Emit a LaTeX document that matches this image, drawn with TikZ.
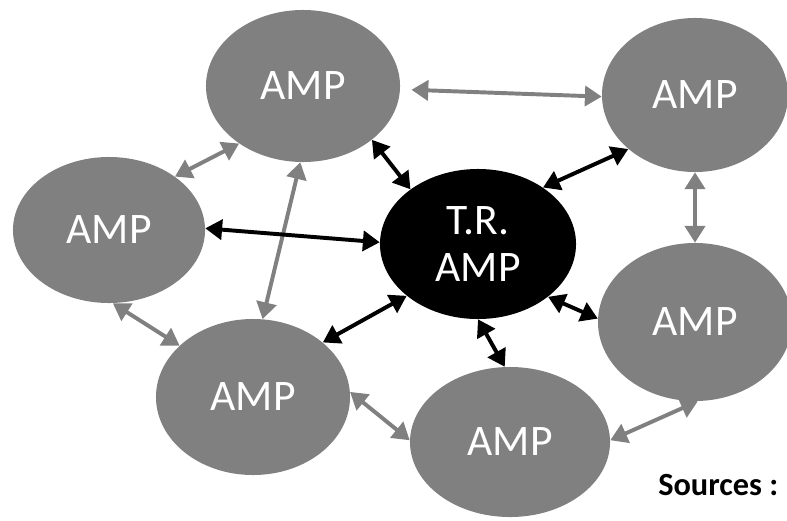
\documentclass[tikz,border=0pt]{standalone}
\usepackage{fontspec}
\setmainfont{Carlito}
\usetikzlibrary{shapes.geometric}
\usetikzlibrary{arrows.meta}

\begin{document}
\begin{tikzpicture}[x=0.025cm,y=-0.025cm,
        amp/.style={ellipse,fill=gray,text=white,inner sep=0pt,align=center,
            font=\fontsize{31}{34}\selectfont},
        link/.style={line width=2.8pt,
            {Triangle[length=4.2mm,width=5mm]}-{Triangle[length=4.2mm,width=5mm]}},
        glink/.style={link,draw=gray},
        blink/.style={link,draw=black}]
        \useasboundingbox (0,0) rectangle (787,520);
        \clip (0,0) rectangle (787,520);

        % Nodes
        \node [amp,minimum width=4.85cm,minimum height=3.8cm]  (top)   at (303,86)  {AMP};
        \node [amp,minimum width=4.65cm,minimum height=3.85cm] (topr)  at (695,95)  {AMP};
        \node [amp,minimum width=4.8cm,minimum height=3.65cm]  (left)  at (109,230) {AMP};
        \node [amp,fill=black,minimum width=4.9cm,minimum height=3.75cm] (tr) at (478,244) {T.R.\\AMP};
        \node [amp,minimum width=4.85cm,minimum height=3.95cm] (right) at (695,322) {AMP};
        \node [amp,minimum width=4.85cm,minimum height=3.9cm]  (botl)  at (253,397) {AMP};
        \node [amp,minimum width=5.0cm,minimum height=3.75cm]  (bot)   at (510,442) {AMP};

        % Gray links
        \draw [glink,shorten <=8pt] (top.-2)    -- (topr.181);
        \draw [glink] (top.222)   -- (left.39);
        \draw [glink] (top.268)   -- (botl.83);
        \draw [glink] (left.273)  -- (botl.145);
        \draw [glink] (botl.3)    -- (bot.179);
        \draw [glink] (bot.1)     -- (right.272);
        \draw [glink] (topr.270)  -- (right.90);

        % Black links
        \draw [blink] (tr.141) -- (top.322);
        \draw [blink] (tr.41)  -- (topr.219);
        \draw [blink] (tr.179) -- (left.1);
        \draw [blink] (tr.216) -- (botl.38);
        \draw [blink] (tr.323) -- (right.178);
        \draw [blink] (tr.270) -- (bot.94);

        % Sources
        \node [anchor=base west,inner sep=0pt,font=\bfseries\fontsize{23}{26}\selectfont]
            (src) at (658,495) {Sources :};
    \end{tikzpicture}
\end{document}
